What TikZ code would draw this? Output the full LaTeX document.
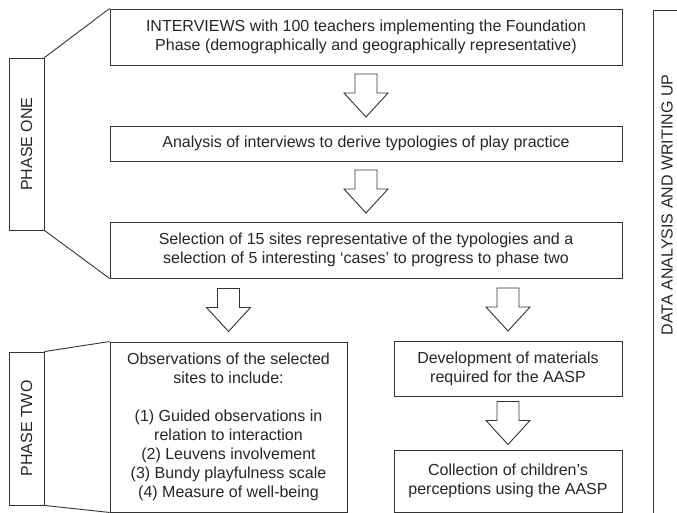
\documentclass[tikz,border=0pt]{standalone}
\usepackage{fontspec}
\setmainfont{Liberation Sans}
\usetikzlibrary{calc}
\definecolor{ln}{HTML}{333333}
\definecolor{tx}{HTML}{262626}
\tikzset{
  box/.style={draw=ln, line width=0.9pt, text=tx, align=center, inner sep=0pt,
    font=\fontsize{16}{19}\selectfont},
  tag/.style={draw=ln, line width=0.9pt, inner sep=0pt},
  lbl/.style={rotate=90, text=tx, inner sep=0pt, font=\fontsize{16}{19}\selectfont},
  arrowbox/.style={draw=ln, line width=0.9pt, fill=white, line join=miter},
  conn/.style={draw=ln, line width=0.9pt}
}
% block arrow centred in the gap between two nodes
\newcommand\blockarr[3]{%
  \draw[arrowbox] let \p1=(#2.south), \p2=(#3.north), \n1={(\y1+\y2)/2} in
    (#1pt-11pt,\n1+21.5pt) -- (#1pt+11pt,\n1+21.5pt) -- (#1pt+11pt,\n1+2.5pt) --
    (#1pt+22pt,\n1+2.5pt) -- (#1pt,\n1-21.5pt) -- (#1pt-22pt,\n1+2.5pt) --
    (#1pt-11pt,\n1+2.5pt) -- cycle;}
\begin{document}
\begin{tikzpicture}[x=1pt,y=-1pt]
\useasboundingbox (0,0) rectangle (677,513);
% phase one boxes
\node[box, minimum width=512pt, minimum height=56pt] (b1) at (366,37)
  {INTERVIEWS with 100 teachers implementing the Foundation\\Phase (demographically and geographically representative)};
\node[box, minimum width=512pt, minimum height=35pt] (b2) at (366,143.5)
  {Analysis of interviews to derive typologies of play practice};
\node[box, minimum width=512pt, minimum height=56pt] (b3) at (366,250)
  {Selection of 15 sites representative of the typologies and a\\selection of 5 interesting `cases' to progress to phase two};
% phase two boxes
\node[box, minimum width=237pt, minimum height=170pt] (obs) at (228.5,427)
  {Observations of the selected\\sites to include:\\[19pt](1) Guided observations in\\relation to interaction\\(2) Leuvens involvement\\(3) Bundy playfulness scale\\(4) Measure of well-being};
\node[box, minimum width=228pt, minimum height=55pt] (dev) at (508,368.5)
  {Development of materials\\required for the AASP};
\node[box, minimum width=228pt, minimum height=62pt] (col) at (508,481)
  {Collection of children's\\perceptions using the AASP};
% phase tags
\node[tag, minimum width=35pt, minimum height=172pt] (p1) at (26.5,144) {};
\node[lbl] (p1t) at (p1.center) {PHASE ONE};
\node[tag, minimum width=35pt, minimum height=153pt] (p2) at (26.5,428.5) {};
\node[lbl] (p2t) at (p2.center) {PHASE TWO};
\draw[conn] (p1.north east) -- (b1.north west);
\draw[conn] (p1.south east) -- (b3.south west);
\draw[conn] (p2.north east) -- (obs.north west);
\draw[conn] (p2.south east) -- (obs.south west);
% arrows
\blockarr{366}{b1}{b2}
\blockarr{366}{b2}{b3}
\blockarr{228.5}{b3}{obs}
\blockarr{508}{b3}{dev}
\blockarr{508}{dev}{col}
% right bracket
\coordinate (rtop) at (677,10);
\coordinate (rcorner) at (653,10);
\coordinate (rbot) at (653,513);
\draw[conn] (rtop) -- (rcorner) -- (rbot);
\node[lbl] (dat) at (667,205) {DATA ANALYSIS AND WRITING UP};
\end{tikzpicture}
\end{document}
